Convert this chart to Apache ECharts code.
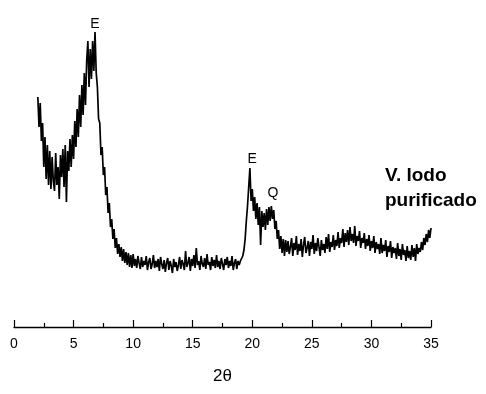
<!DOCTYPE html>
<html>
<head>
<meta charset="utf-8">
<script src="https://cdn.jsdelivr.net/npm/echarts@6/dist/echarts.min.js"></script>
<style>html,body{margin:0;padding:0;background:#fff}#c{width:486px;height:394px}</style>
</head>
<body>
<div id="c"></div>
<script>
// Sampling of the diffractogram: 2θ from 2.0° to 35.0° in 0.1° steps
const twoThetaStart = 2.0;
const twoThetaStep = 0.1;

// Intensities (arbitrary units), per 2θ region
const lowAngle = [ // 2.0 – 4.9
  230, 200, 224, 186, 204, 160, 190, 148, 182, 142,
  176, 138, 170, 146, 136, 174, 142, 160, 128, 172,
  150, 178, 140, 182, 125, 176, 156, 188, 160, 192
];
const peakE1 = [ // 5.0 – 9.9
  168, 206, 180, 218, 190, 232, 200, 242, 212, 254,
  222, 266, 286, 240, 278, 248, 286, 256, 295, 254,
  240, 208, 204, 172, 180, 152, 160, 132, 140, 114,
  124, 100, 108, 88, 98, 79, 89, 73, 83, 70,
  80, 66, 78, 64, 75, 62, 74, 60, 72, 59
];
const baseline = [ // 10.0 – 18.9
  73, 61, 68, 59, 71, 64, 58, 70, 60, 66,
  62, 71, 57, 65, 69, 58, 63, 72, 59, 66,
  60, 68, 56, 70, 63, 58, 67, 55, 64, 69,
  57, 66, 61, 54, 68, 60, 65, 56, 62, 70,
  58, 67, 63, 57, 76, 60, 64, 70, 56, 68,
  61, 72, 59, 79, 62, 66, 57, 71, 63, 60,
  69, 58, 73, 62, 65, 57, 70, 61, 67, 59,
  72, 60, 66, 58, 69, 63, 57, 68, 62, 70,
  59, 66, 61, 71, 57, 64, 68, 58, 66, 62
];
const peakE2Q = [ // 19.0 – 22.9
  66, 68, 71, 77, 88, 106, 121, 140, 159, 126,
  138, 116, 130, 108, 124, 102, 120, 82, 116, 100,
  114, 97, 118, 102, 120, 106, 121, 108, 117, 98,
  106, 88, 97, 78, 91, 74, 88, 71, 87, 75
];
const tail = [ // 23.0 – 35.0
  86, 73, 80, 89, 71, 84, 77, 91, 72, 83,
  76, 88, 70, 82, 90, 74, 79, 86, 71, 85,
  78, 92, 73, 84, 76, 89, 80, 71, 87, 77,
  83, 74, 90, 78, 93, 75, 85, 80, 92, 77,
  87, 81, 95, 79, 89, 84, 98, 80, 94, 85,
  97, 82, 100, 86, 93, 84, 101, 81, 91, 86,
  96, 79, 89, 84, 94, 78, 88, 81, 92, 76,
  86, 79, 91, 74, 85, 78, 83, 73, 89, 74,
  82, 76, 87, 70, 81, 75, 86, 69, 80, 74,
  79, 68, 84, 71, 78, 67, 83, 72, 77, 66,
  81, 69, 76, 67, 82, 70, 79, 66, 83, 73,
  79, 75, 85, 77, 89, 82, 93, 85, 97, 89,
  99
];

const peakLabels = ['E', 'E', 'Q'];
const peakLabelPos = [[6.8, 303], [19.98, 168], [21.74, 134]];
const xTicks = [0, 5, 10, 15, 20, 25, 30, 35];
const sampleName = 'V. lodo\npurificado';
const xAxisName = '2θ';

const intensity = [].concat(lowAngle, peakE1, baseline, peakE2Q, tail);
const data = intensity.map((v, i) => [+(twoThetaStart + i * twoThetaStep).toFixed(1), v]);

const chart = echarts.init(document.getElementById('c'), null, {renderer: 'canvas'});
const FONT = '"Liberation Sans", Arial, sans-serif';
chart.setOption({
  animation: false,
  backgroundColor: '#fff',
  title: {
    text: sampleName,
    left: 385, top: 163, padding: 0,
    textStyle: {fontFamily: FONT, fontWeight: 'bold', fontSize: 19, lineHeight: 25, color: '#000'}
  },
  grid: {left: 14, right: 55, top: 7, bottom: 67, containLabel: false},
  xAxis: {
    type: 'value', min: xTicks[0], max: xTicks[xTicks.length - 1], interval: 5,
    name: xAxisName, nameLocation: 'middle', nameGap: 41,
    nameTextStyle: {fontFamily: FONT, fontSize: 17, color: '#000'},
    axisLine: {show: true, onZero: false, lineStyle: {color: '#000', width: 1.3}},
    axisTick: {show: true, inside: true, length: 7, lineStyle: {color: '#000', width: 1.2}},
    minorTick: {show: true, splitNumber: 2, length: 4, lineStyle: {color: '#000', width: 1.2}},
    axisLabel: {fontFamily: FONT, fontSize: 14, color: '#000', margin: 10},
    splitLine: {show: false}
  },
  yAxis: {type: 'value', min: 0, max: 320, show: false, splitLine: {show: false}},
  series: [{
    type: 'line', data: data, showSymbol: false, symbol: 'none',
    lineStyle: {color: '#000', width: 1.7}, clip: false,
    markPoint: {
      symbol: 'circle', symbolSize: 0,
      label: {show: true, position: 'inside', fontFamily: FONT, fontSize: 14, color: '#000',
        formatter: p => p.name},
      data: peakLabels.map((n, i) => ({name: n, coord: peakLabelPos[i]}))
    }
  }]
});
</script>
</body>
</html>
